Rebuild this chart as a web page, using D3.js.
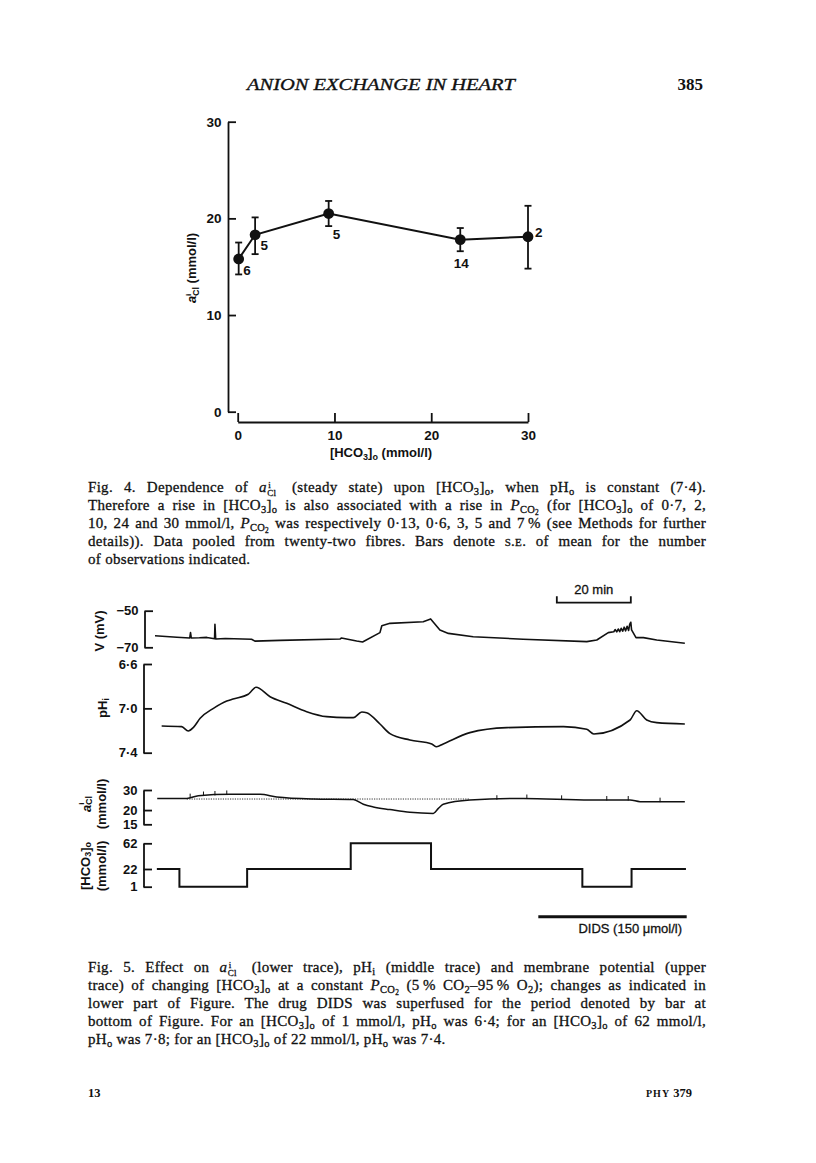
<!DOCTYPE html>
<html><head><meta charset="utf-8">
<script src="https://cdn.jsdelivr.net/npm/d3@7/dist/d3.min.js"></script>
<style>
html,body{margin:0;padding:0;background:#fff;}
body{width:816px;height:1163px;position:relative;overflow:hidden;}
svg{position:absolute;left:0;top:0;}
.cap{position:absolute;left:88px;white-space:nowrap;font-family:"Liberation Serif","Times New Roman",serif;font-size:15px;letter-spacing:0.3px;color:#111;-webkit-text-stroke:0.3px #111;line-height:18px;}
.sb{position:relative;font-size:0.7em;top:0.3em;}
.stk{position:relative;display:inline-block;width:0.95em;height:0.8em;}
.stk .u{position:absolute;left:0.15em;top:-0.45em;font-size:0.6em;}
.stk .d{position:absolute;left:0.05em;top:0.45em;font-size:0.6em;}
.smc{font-variant:small-caps;}
</style></head><body>
<script>
// ---------------- Fig. 4 data ----------------
const fig4Hco3     = [0.1, 1.8, 9.4, 23.0, 30.0];
const fig4ACl      = [15.8, 18.3, 20.5, 17.8, 18.1];
const fig4ErrLow   = [14.2, 16.3, 19.2, 16.6, 14.8];
const fig4ErrHigh  = [17.5, 20.1, 21.8, 19.0, 21.3];
const fig4N        = [6, 5, 5, 14, 2];
const fig4Ticks    = [0, 10, 20, 30];

// ---------------- Fig. 5 data (time in min) ----------------
const vTime  = [0, 5.9, 9.4, 9.6, 9.8, 12, 14, 16.1, 16.2, 16.4, 19, 26.1, 27.0, 33.8, 50.0, 50.4, 54.5, 56.1, 60.8, 61.3, 63.5, 72.5, 74.5, 77.0, 79.3, 86.0, 99.5, 116.7, 119.4, 122.5, 124, 124.4, 124.8, 125.2, 125.6, 126, 126.4, 126.8, 127.2, 127.6, 128, 128.3, 128.6, 128.8, 130.0, 132.0, 135.6, 143.2];
const vValue = [-63.7, -64.5, -64.9, -62.0, -64.9, -64.8, -64.6, -65.3, -57.4, -65.5, -65.2, -65.6, -66.6, -66.2, -65.5, -64.9, -66.6, -67.1, -62.0, -58.2, -56.9, -56.0, -54.5, -60.5, -62.4, -64.2, -65.6, -66.9, -66.0, -62.0, -61.5, -60.3, -61.6, -60.0, -61.5, -59.6, -61.2, -59.0, -61.0, -58.5, -60.8, -57.5, -56.3, -60.5, -64.7, -64.7, -66.0, -67.8];

const phTime  = [1.8, 7.2, 9.0, 10.4, 12.2, 15.8, 19.4, 21.1, 25.2, 25.9, 27.3, 31.1, 35.6, 41.0, 46.4, 51.8, 53.6, 55.9, 57.2, 60.8, 63.5, 68.9, 74.8, 76.1, 77.9, 85.1, 95.1, 110.4, 116.7, 118.6, 128.4, 130.2, 132.9, 135.6, 143.2];
const phValue = [7.159, 7.165, 7.204, 7.171, 7.09, 7.000, 6.934, 6.916, 6.873, 6.850, 6.810, 6.895, 6.955, 7.030, 7.075, 7.084, 7.084, 7.033, 7.039, 7.141, 7.228, 7.285, 7.321, 7.346, 7.321, 7.219, 7.174, 7.165, 7.189, 7.231, 7.105, 7.021, 7.105, 7.129, 7.141];

const aclTime  = [0.6, 8.6, 11.7, 20.3, 28.4, 32.9, 42.8, 53.6, 56.3, 59.0, 63.5, 68.9, 75.2, 76.6, 77.9, 85.1, 99.5, 117.6, 128.4, 131.1, 143.2];
const aclValue = [25.3, 25.3, 26.7, 27.5, 27.5, 26.05, 25.0, 24.7, 22.5, 21.3, 20.2, 19.1, 18.7, 20.7, 22.5, 24.5, 25.3, 24.5, 24.5, 23.7, 23.7];
const aclMarkTimes = [9.5, 13.1, 16.2, 19.4, 92.4, 100.5, 109.9, 122.1, 127.9, 136.5];
const aclBaseline = {start: 8.6, end: 85.1, value: 25.0};

const hco3StepTimes  = [0.5, 6.6, 24.9, 52.9, 74.6, 115.5, 128.8, 143.5];
const hco3StepLevels = [22, 1, 22, 62, 22, 1, 22];

const vTicks = [-50, -70];
const phTicks = [6.6, 7.0, 7.4];
const aclTicks = [30, 20, 15];
const hco3Ticks = [62, 22, 1];
const didsPeriod = [103.6, 143.7];
const scaleBar = {start: 108.6, length: 20};

// ---------------- drawing ----------------
const W = 816, H = 1163;
const INK = "#111";
const SANS = '"Liberation Sans", Arial, Helvetica, sans-serif';
const SERIF = '"Liberation Serif", "Times New Roman", serif';
const body = d3.select("body");
const svg = body.append("svg").attr("width", W).attr("height", H);
svg.append("rect").attr("width", W).attr("height", H).attr("fill", "#fff");

function styleAxis(g, size) {
  g.attr("font-family", null).attr("font-size", null);
  g.select(".domain").attr("stroke", INK).attr("stroke-width", 1.8);
  g.selectAll(".tick line").attr("stroke", INK).attr("stroke-width", 1.8);
  g.selectAll(".tick text").attr("fill", INK).attr("font-family", SANS)
    .attr("font-size", size).attr("font-weight", "bold");
}

// header
svg.append("text").attr("x", 247).attr("y", 90)
  .attr("font-family", SERIF).attr("font-style", "italic").attr("font-size", 17)
  .attr("fill", INK).attr("stroke", INK).attr("stroke-width", 0.35)
  .attr("textLength", 268).attr("lengthAdjust", "spacingAndGlyphs")
  .text("ANION EXCHANGE IN HEART");
svg.append("text").attr("x", 703).attr("y", 90).attr("text-anchor", "end")
  .attr("font-family", SERIF).attr("font-weight", "bold").attr("font-size", 17)
  .attr("fill", INK).text("385");

// ---- Fig. 4 ----
const x4 = d3.scaleLinear().domain([0, 30]).range([237.7, 528]);
const y4 = d3.scaleLinear().domain([0, 30]).range([411.7, 121.7]);

const yAx4 = svg.append("g").attr("transform", "translate(228,0)")
  .call(d3.axisLeft(y4).tickValues(fig4Ticks).tickSize(-8).tickSizeOuter(0).tickPadding(6.5));
styleAxis(yAx4, 13.5);
const xAx4 = svg.append("g").attr("transform", "translate(0,422)")
  .call(d3.axisBottom(x4).tickValues(fig4Ticks).tickSize(-9).tickSizeOuter(0).tickPadding(8));
styleAxis(xAx4, 13.5);

const idx4 = d3.range(fig4Hco3.length);
svg.append("path").datum(idx4)
  .attr("d", d3.line().x(i => x4(fig4Hco3[i])).y(i => y4(fig4ACl[i])))
  .attr("fill", "none").attr("stroke", INK).attr("stroke-width", 2);

const eb = svg.append("g").attr("stroke", INK).attr("stroke-width", 1.8);
idx4.forEach(i => {
  const cx = x4(fig4Hco3[i]);
  eb.append("line").attr("x1", cx).attr("x2", cx).attr("y1", y4(fig4ErrLow[i])).attr("y2", y4(fig4ErrHigh[i]));
  eb.append("line").attr("x1", cx - 3.5).attr("x2", cx + 3.5).attr("y1", y4(fig4ErrLow[i])).attr("y2", y4(fig4ErrLow[i]));
  eb.append("line").attr("x1", cx - 3.5).attr("x2", cx + 3.5).attr("y1", y4(fig4ErrHigh[i])).attr("y2", y4(fig4ErrHigh[i]));
});
svg.append("g").selectAll("circle").data(idx4).join("circle")
  .attr("cx", i => x4(fig4Hco3[i])).attr("cy", i => y4(fig4ACl[i])).attr("r", 5.4).attr("fill", INK);

const nLabelOffset = [[4.5, 16], [5.5, 15], [4, 25], [-6.5, 28], [7, 0]];
svg.append("g").selectAll("text").data(idx4).join("text")
  .attr("x", i => x4(fig4Hco3[i]) + nLabelOffset[i][0])
  .attr("y", i => y4(fig4ACl[i]) + nLabelOffset[i][1])
  .attr("font-family", SANS).attr("font-weight", "bold").attr("font-size", 13.5).attr("fill", INK)
  .text(i => fig4N[i]);

// y label fig 4
const yl4 = svg.append("text").attr("transform", "translate(196,268) rotate(-90)")
  .attr("text-anchor", "middle").attr("font-family", SANS).attr("font-weight", "bold")
  .attr("font-size", 13).attr("fill", INK);
yl4.append("tspan").attr("font-style", "italic").text("a");
yl4.append("tspan").attr("font-size", 8).attr("dy", -5).text("i");
yl4.append("tspan").attr("font-size", 9).attr("dx", -2.4).attr("dy", 8).text("Cl");
yl4.append("tspan").attr("dy", -3).text(" (mmol/l)");

// x label fig 4
const xl4 = svg.append("text").attr("x", 381).attr("y", 457).attr("text-anchor", "middle")
  .attr("font-family", SANS).attr("font-weight", "bold").attr("font-size", 13).attr("fill", INK);
xl4.append("tspan").text("[HCO");
xl4.append("tspan").attr("font-size", 9).attr("dy", 3).text("3");
xl4.append("tspan").attr("dy", -3).text("]");
xl4.append("tspan").attr("font-size", 9).attr("dy", 3).text("o");
xl4.append("tspan").attr("dy", -3).text(" (mmol/l)");

// ---- Fig. 5 ----
const xt = d3.scaleLinear().domain([0, 145]).range([155, 691.5]);
const yV = d3.scaleLinear().domain([-70, -50]).range([647.3, 610.7]);
const yPh = d3.scaleLinear().domain([6.6, 7.4]).range([664, 752.7]);
const yAcl = d3.scaleLog().domain([15, 30]).range([824.3, 790]);
const yHco3 = d3.scaleLinear().domain([1, 22, 62]).range([886.7, 869, 843.3]);

function bracket(scale, ticks, fmt, xPos) {
  const g = svg.append("g").attr("transform", `translate(${xPos},0)`)
    .call(d3.axisLeft(scale).tickValues(ticks).tickFormat(fmt).tickSize(-8.5).tickSizeOuter(0).tickPadding(6));
  styleAxis(g, 13);
}
bracket(yV, vTicks, d => "\u2212" + Math.abs(d), 144.5);
bracket(yPh, phTicks, d => d3.format(".1f")(d).replace(".", "\u00b7"), 143.5);
bracket(yAcl, aclTicks, d => String(d), 143.5);
bracket(yHco3, hco3Ticks, d => String(d), 143.5);

function trace(ts, vs, yScale, width, curve) {
  svg.append("path").datum(d3.range(ts.length))
    .attr("d", d3.line().curve(curve || d3.curveLinear).x(i => xt(ts[i])).y(i => yScale(vs[i])))
    .attr("fill", "none").attr("stroke", INK).attr("stroke-width", width)
    .attr("stroke-linejoin", "round");
}
trace(vTime, vValue, yV, 1.6);
trace(phTime, phValue, yPh, 1.6, d3.curveMonotoneX);

// dotted baseline for aCl
svg.append("line").attr("x1", xt(aclBaseline.start)).attr("x2", xt(aclBaseline.end))
  .attr("y1", yAcl(aclBaseline.value)).attr("y2", yAcl(aclBaseline.value))
  .attr("stroke", "#333").attr("stroke-width", 1).attr("stroke-dasharray", "1.2,1.2");
trace(aclTime, aclValue, yAcl, 1.5, d3.curveMonotoneX);

function interp(ts, vs, t) {
  let i = d3.bisectRight(ts, t);
  i = Math.max(1, Math.min(ts.length - 1, i));
  const f = (t - ts[i - 1]) / (ts[i] - ts[i - 1]);
  return vs[i - 1] + (vs[i] - vs[i - 1]) * f;
}
svg.append("g").selectAll("line").data(aclMarkTimes).join("line")
  .attr("x1", t => xt(t)).attr("x2", t => xt(t))
  .attr("y1", t => yAcl(interp(aclTime, aclValue, t)) - 4)
  .attr("y2", t => yAcl(interp(aclTime, aclValue, t)) + 0.5)
  .attr("stroke", INK).attr("stroke-width", 1);

// HCO3 steps
const stepPts = hco3StepTimes.map((t, i) => [t, hco3StepLevels[Math.min(i, hco3StepLevels.length - 1)]]);
svg.append("path").datum(stepPts)
  .attr("d", d3.line().curve(d3.curveStepAfter).x(d => xt(d[0])).y(d => yHco3(d[1])))
  .attr("fill", "none").attr("stroke", INK).attr("stroke-width", 2);

// scale bar 20 min
const sbY = 602.7;
svg.append("path")
  .attr("d", `M${xt(scaleBar.start)},${sbY - 6.5}V${sbY}H${xt(scaleBar.start + scaleBar.length)}V${sbY - 6.5}`)
  .attr("fill", "none").attr("stroke", INK).attr("stroke-width", 1.8);
svg.append("text").attr("x", (xt(scaleBar.start) + xt(scaleBar.start + scaleBar.length)) / 2).attr("y", 594)
  .attr("text-anchor", "middle").attr("font-family", SANS).attr("font-size", 13)
  .attr("fill", INK).attr("stroke", INK).attr("stroke-width", 0.3).text("20 min");

// DIDS bar
svg.append("line").attr("x1", xt(didsPeriod[0])).attr("x2", xt(didsPeriod[1]))
  .attr("y1", 916.7).attr("y2", 916.7).attr("stroke", INK).attr("stroke-width", 3);
svg.append("text").attr("x", 682).attr("y", 933).attr("text-anchor", "end")
  .attr("font-family", SANS).attr("font-size", 13).attr("fill", INK)
  .attr("stroke", INK).attr("stroke-width", 0.3).text("DIDS (150 \u03bcmol/l)");

// Fig 5 y labels
function rlabel(cx, cy) {
  return svg.append("text").attr("transform", `translate(${cx},${cy}) rotate(-90)`)
    .attr("text-anchor", "middle").attr("dominant-baseline", "central")
    .attr("font-family", SANS).attr("font-weight", "bold").attr("font-size", 13).attr("fill", INK);
}
rlabel(99, 631).text("V (mV)");
const phl = rlabel(102, 708);
phl.append("tspan").text("pH");
phl.append("tspan").attr("font-size", 9).attr("dy", 4).text("i");
const al = rlabel(86, 804);
al.append("tspan").attr("font-style", "italic").text("a");
al.append("tspan").attr("font-size", 8).attr("dy", -5).text("i");
al.append("tspan").attr("font-size", 9).attr("dx", -2.4).attr("dy", 8).text("Cl");
rlabel(101.5, 804).text("(mmol/l)");
const hl = rlabel(85, 866);
hl.append("tspan").text("[HCO");
hl.append("tspan").attr("font-size", 9).attr("dy", 3).text("3");
hl.append("tspan").attr("dy", -3).text("]");
hl.append("tspan").attr("font-size", 9).attr("dy", 3).text("o");
rlabel(101.5, 866).text("(mmol/l)");

// footer
svg.append("text").attr("x", 88).attr("y", 1097).attr("font-family", SERIF).attr("font-weight", "bold")
  .attr("font-size", 12.5).attr("fill", INK).text("13");
const ft = svg.append("text").attr("x", 692).attr("y", 1097).attr("text-anchor", "end")
  .attr("font-family", SERIF).attr("font-weight", "bold").attr("font-size", 12.5).attr("fill", INK);
ft.append("tspan").attr("font-size", 10).attr("letter-spacing", 1).text("PHY ");
ft.append("tspan").text("379");

// ---- captions ----
const CAPW = 618;
const ACL = '<i>a</i><span class="stk"><span class="u">i</span><span class="d">Cl</span></span>';
const HCO = '[HCO<span class="sb">3</span>]<span class="sb">o</span>';
const PCO2 = '<i>P</i><span class="sb">CO<span class="sb">2</span></span>';
const fig4Caption = [
  'Fig. 4. Dependence of ' + ACL + ' (steady state) upon ' + HCO + ', when pH<span class="sb">o</span> is constant (7\u00b74).',
  'Therefore a rise in ' + HCO + ' is also associated with a rise in ' + PCO2 + ' (for ' + HCO + ' of 0\u00b77, 2,',
  '10, 24 and 30 mmol/l, ' + PCO2 + ' was respectively 0\u00b713, 0\u00b76, 3, 5 and 7\u2009% (see Methods for further',
  'details)). Data pooled from twenty-two fibres. Bars denote <span class="smc">s.e.</span> of mean for the number',
  'of observations indicated.'
];
const fig5Caption = [
  'Fig. 5. Effect on ' + ACL + ' (lower trace), pH<span class="sb">i</span> (middle trace) and membrane potential (upper',
  'trace) of changing ' + HCO + ' at a constant ' + PCO2 + ' (5\u2009% CO<span class="sb">2</span>\u201395\u2009% O<span class="sb">2</span>); changes as indicated in',
  'lower part of Figure. The drug DIDS was superfused for the period denoted by bar at',
  'bottom of Figure. For an ' + HCO + ' of 1 mmol/l, pH<span class="sb">o</span> was 6\u00b74; for an ' + HCO + ' of 62 mmol/l,',
  'pH<span class="sb">o</span> was 7\u00b78; for an ' + HCO + ' of 22 mmol/l, pH<span class="sb">o</span> was 7\u00b74.'
];
function caption(lines, firstBaseline) {
  lines.forEach((html, i) => {
    const d = body.append("div").attr("class", "cap")
      .style("top", (firstBaseline + i * 18 - 14) + "px").html(html);
    if (i < lines.length - 1) {
      const node = d.node();
      const w = node.getBoundingClientRect().width;
      const spaces = (node.textContent.match(/ /g) || []).length;
      d.style("word-spacing", ((CAPW - w) / spaces) + "px");
    }
  });
}
caption(fig4Caption, 492);
caption(fig5Caption, 972);
</script>
</body></html>
